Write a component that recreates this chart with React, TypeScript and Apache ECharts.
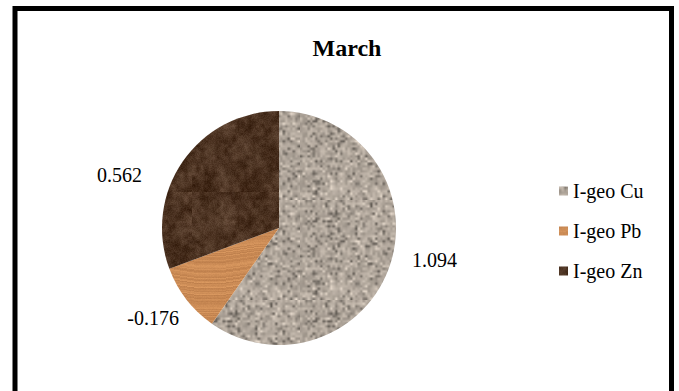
import React, { useEffect, useRef } from "react";
import * as echarts from "echarts";

const title = "March";
const categories = ["I-geo Cu", "I-geo Pb", "I-geo Zn"];
const values = [1.094, -0.176, 0.562];

const SERIF = "'Liberation Serif', 'Times New Roman', serif";

function makeRng(seed: number) {
  let s = seed >>> 0;
  return () => {
    s = (s * 1664525 + 1013904223) >>> 0;
    return s / 4294967296;
  };
}

function clamp(v: number) {
  return Math.max(0, Math.min(255, Math.round(v)));
}

function noiseCanvas(w: number, h: number, seed: number, base: number[], amp: number, dark = 0, light = 0) {
  const c = document.createElement("canvas");
  c.width = w; c.height = h;
  const ctx = c.getContext("2d")!;
  const img = ctx.createImageData(w, h);
  const rnd = makeRng(seed);
  for (let i = 0; i < w * h; i++) {
    const r = rnd();
    let d = (rnd() - 0.5) * amp;
    if (r < dark) d -= 60;
    else if (r > 1 - light) d += 35;
    img.data[i * 4] = clamp(base[0] + d);
    img.data[i * 4 + 1] = clamp(base[1] + d * 0.95);
    img.data[i * 4 + 2] = clamp(base[2] + d * 0.9);
    img.data[i * 4 + 3] = 255;
  }
  ctx.putImageData(img, 0, 0);
  return c;
}

function upscale(src: HTMLCanvasElement, w: number, h: number, alpha = 1, target?: HTMLCanvasElement) {
  const c = target || document.createElement("canvas");
  if (!target) { c.width = w; c.height = h; }
  const ctx = c.getContext("2d")!;
  ctx.imageSmoothingEnabled = true;
  ctx.globalAlpha = alpha;
  ctx.drawImage(src, 0, 0, w, h);
  ctx.globalAlpha = 1;
  return c;
}

function granite(): HTMLCanvasElement {
  const fine = noiseCanvas(40, 40, 7, [176, 166, 155], 45, 0.12, 0.12);
  return upscale(fine, 100, 100);
}

function wood(): HTMLCanvasElement {
  const c = document.createElement("canvas");
  c.width = 120; c.height = 60;
  const ctx = c.getContext("2d")!;
  const img = ctx.createImageData(120, 60);
  const rnd = makeRng(23);
  const rows: number[] = [];
  for (let y = 0; y < 60; y++) rows.push((rnd() - 0.5) * 26);
  for (let y = 0; y < 60; y++) {
    for (let x = 0; x < 120; x++) {
      const i = y * 120 + x;
      const yy = Math.floor(y + 3 * Math.sin(x / 19));
      const row = rows[((yy % 60) + 60) % 60];
      const d = row + (rnd() - 0.5) * 8;
      img.data[i * 4] = clamp(204 + d);
      img.data[i * 4 + 1] = clamp(140 + d * 0.9);
      img.data[i * 4 + 2] = clamp(86 + d * 0.7);
      img.data[i * 4 + 3] = 255;
    }
  }
  ctx.putImageData(img, 0, 0);
  return c;
}

function marble(): HTMLCanvasElement {
  const coarse = noiseCanvas(8, 8, 91, [78, 53, 36], 55);
  const mid = noiseCanvas(24, 24, 57, [78, 53, 36], 60);
  const c = upscale(coarse, 96, 96);
  upscale(mid, 96, 96, 0.5, c);
  const ctx = c.getContext("2d")!;
  const img = ctx.getImageData(0, 0, 96, 96);
  const rnd = makeRng(5);
  for (let i = 0; i < 96 * 96; i++) {
    const d = (rnd() - 0.5) * 16;
    img.data[i * 4] = clamp(img.data[i * 4] + d);
    img.data[i * 4 + 1] = clamp(img.data[i * 4 + 1] + d);
    img.data[i * 4 + 2] = clamp(img.data[i * 4 + 2] + d);
  }
  ctx.putImageData(img, 0, 0);
  return c;
}

function pattern(c: HTMLCanvasElement) {
  return {
    image: c.toDataURL(),
    repeat: "repeat",
    imageWidth: c.width,
    imageHeight: c.height,
  } as any;
}

// per-label nudges (px) to match the Excel-style label placement
const labelNudge = [
  [5, -7],
  [7, 11],
  [-26, 21],
];

export default function App() {
  const ref = useRef<HTMLDivElement>(null);
  useEffect(() => {
    document.body.style.margin = "0";
    const chart = echarts.init(ref.current!, null, { renderer: "svg" });
    const fills = [pattern(granite()), pattern(wood()), pattern(marble())];
    const data = categories.map((name, i) => ({
      name,
      value: Math.abs(values[i]),
      itemStyle: { color: fills[i] },
    }));
    chart.setOption({
      animation: false,
      backgroundColor: "#ffffff",
      title: {
        text: title,
        left: 342,
        textAlign: "center",
        top: 31,
        textStyle: {
          fontFamily: SERIF,
          fontSize: 24,
          fontWeight: "bold",
          color: "#000",
          lineHeight: 24,
        },
      },
      legend: {
        orient: "vertical",
        left: 554,
        top: 176,
        itemWidth: 9,
        itemHeight: 9,
        itemGap: 20,
        icon: "rect",
        selectedMode: false,
        textStyle: {
          fontFamily: SERIF,
          fontSize: 20,
          color: "#000",
          lineHeight: 20,
        },
        data: categories,
      },
      graphic: [
        {
          type: "rect",
          shape: { x: 15, y: 8.5, width: 656.5, height: 400 },
          style: { fill: "none", stroke: "#000", lineWidth: 5 },
          silent: true,
        },
      ],
      series: [
        {
          type: "pie",
          center: [279, 228],
          radius: 117,
          startAngle: 90,
          clockwise: true,
          avoidLabelOverlap: false,
          itemStyle: { borderWidth: 0 },
          label: {
            show: true,
            position: "outside",
            fontFamily: SERIF,
            fontSize: 20,
            color: "#000",
            formatter: (p: any) => values[p.dataIndex].toFixed(3),
          },
          labelLine: { show: false, length: 12, length2: 0 },
          labelLayout: (p: any) => ({
            dx: labelNudge[p.dataIndex][0],
            dy: labelNudge[p.dataIndex][1],
          }),
          emphasis: { disabled: true },
          data,
        },
      ],
    });
    return () => chart.dispose();
  }, []);
  return <div ref={ref} style={{ width: 679, height: 391 }} />;
}
